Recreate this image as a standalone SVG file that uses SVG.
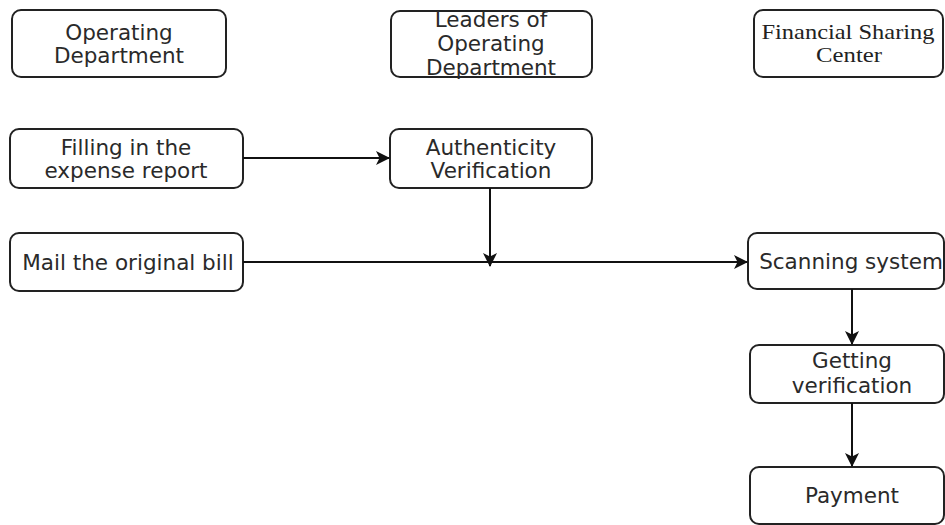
<svg xmlns="http://www.w3.org/2000/svg" width="945" height="525" viewBox="0 0 945 525">
<style>
.box{fill:#fff;stroke:#222;stroke-width:2}
.t{font-family:"DejaVu Sans",Verdana,sans-serif;font-size:21.5px;fill:#2a2a2a;text-anchor:middle}
.s{font-family:"Liberation Serif","Times New Roman",serif;font-size:22px;fill:#222;text-anchor:middle}
.c{fill:none;stroke:#111;stroke-width:2}
</style>
<defs>
<marker id="ah" viewBox="0 0 14 14" refX="13" refY="7" markerWidth="14" markerHeight="14" markerUnits="userSpaceOnUse" orient="auto">
<path d="M0,0 L14,7 L0,14 L3.5,7 Z" fill="#111"/>
</marker>
</defs>
<g id="operating-department">
<rect class="box" x="12" y="10" width="214" height="67" rx="9"/>
<text class="t" x="119" y="40">Operating</text>
<text class="t" x="119" y="63">Department</text>
</g>
<g id="leaders">
<rect class="box" x="391" y="11" width="201" height="66" rx="9"/>
<text class="t" x="491" y="27">Leaders of</text>
<text class="t" x="491" y="51">Operating</text>
<text class="t" x="491" y="75">Department</text>
</g>
<g id="financial-sharing-center">
<rect class="box" x="754" y="10" width="189" height="67" rx="9"/>
<text class="s" x="848" y="39" textLength="173" lengthAdjust="spacingAndGlyphs">Financial Sharing</text>
<text class="s" x="849" y="62" textLength="66" lengthAdjust="spacingAndGlyphs">Center</text>
</g>
<g id="filling">
<rect class="box" x="10" y="129" width="233" height="59" rx="9"/>
<text class="t" x="126" y="155">Filling in the</text>
<text class="t" x="126" y="178">expense report</text>
</g>
<g id="authenticity">
<rect class="box" x="390" y="129" width="202" height="59" rx="9"/>
<text class="t" x="491" y="155">Authenticity</text>
<text class="t" x="491" y="178">Verification</text>
</g>
<g id="mail">
<rect class="box" x="10" y="233" width="233" height="58" rx="9"/>
<text class="t" x="128" y="270">Mail the original bill</text>
</g>
<g id="scanning">
<rect class="box" x="748" y="233" width="196" height="56" rx="9"/>
<text class="t" x="851" y="269">Scanning system</text>
</g>
<g id="getting">
<rect class="box" x="750" y="345" width="194" height="58" rx="9"/>
<text class="t" x="852" y="368">Getting</text>
<text class="t" x="852" y="393">verification</text>
</g>
<g id="payment">
<rect class="box" x="750" y="467" width="194" height="57" rx="9"/>
<text class="t" x="852" y="503">Payment</text>
</g>
<g id="connectors">
<path class="c" d="M243,158 H389" marker-end="url(#ah)"/>
<path class="c" d="M490,188 V266" marker-end="url(#ah)"/>
<path class="c" d="M243,262 H747" marker-end="url(#ah)"/>
<path class="c" d="M852,289 V344" marker-end="url(#ah)"/>
<path class="c" d="M852,403 V466" marker-end="url(#ah)"/>
</g>
</svg>
